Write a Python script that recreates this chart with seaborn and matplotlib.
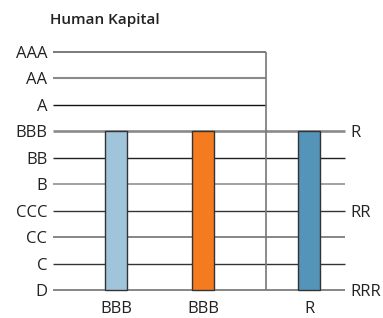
import numpy as np
import pandas as pd
import matplotlib
matplotlib.use('Agg')
import matplotlib.pyplot as plt
import seaborn as sns

# ratings, bottom (D) to top (AAA)
ratings = ['D', 'C', 'CC', 'CCC', 'B', 'BB', 'BBB', 'A', 'AA', 'AAA']
line_colors = ['#666666', '#333333', '#666666', '#333333', '#888888',
               '#222222', '#8a8a8a', '#111111', '#8a8a8a', '#555555']
line_widths = [1.1, 1.0, 1.1, 1.0, 1.1, 1.0, 1.9, 1.0, 1.5, 1.1]

bar_labels = ['BBB', 'BBB', 'R']
bar_values = ['BBB', 'BBB', 'BBB']
bar_pos = [2.16, 5.14, 8.77]
bar_colors = ['#a0c4da', '#f47b20', '#5494b8']

right_labels = ['R', 'RR', 'RRR']
right_levels = ['BBB', 'CCC', 'D']

split_x = 7.29      # vertical divider
bar_w = 0.75        # in axis units

sns.set_style('white')
plt.rcParams['font.family'] = ['Open Sans', 'DejaVu Sans']

fig = plt.figure(figsize=(3.83, 3.18), dpi=100)
ax = fig.add_axes([53 / 383, (318 - 290) / 318, 292 / 383, 238 / 318])

df = pd.DataFrame({'x': bar_pos, 'y': [ratings.index(v) for v in bar_values],
                   'lab': bar_labels})

# grid lines
for i, r in enumerate(ratings):
    xmax = split_x if i > ratings.index('BBB') else 10
    ax.plot([0, xmax], [i, i], color=line_colors[i], lw=line_widths[i],
            zorder=1, clip_on=False, solid_capstyle='butt')
ax.plot([split_x, split_x], [0, 9], color='#777777', lw=1.2, zorder=1,
        clip_on=False, solid_capstyle='butt')

min_gap = np.min(np.diff(bar_pos))
sns.barplot(data=df, x='x', y='y', hue='lab', native_scale=True,
            palette=bar_colors, width=bar_w / min_gap, dodge=False, legend=False,
            edgecolor='#333333', linewidth=1.0, ax=ax, zorder=3)
for patch, c in zip(ax.patches, bar_colors):
    patch.set_facecolor(c)
    patch.set_zorder(3)
    patch.set_clip_on(False)

ax.set_xlim(0, 10)
ax.set_ylim(0, 9)
ax.set_yticks(range(len(ratings)))
ax.set_yticklabels(ratings, fontsize=12, color='#222222')
ax.set_xticks(bar_pos)
ax.set_xticklabels(bar_labels, fontsize=12, color='#222222')
ax.tick_params(length=0, pad=4)
ax.tick_params(axis='x', pad=8)
ax.set_xlabel('')
ax.set_ylabel('')
sns.despine(ax=ax, left=True, bottom=True)

ax2 = ax.twinx()
ax2.set_ylim(0, 9)
ax2.set_yticks([ratings.index(l) for l in right_levels])
ax2.set_yticklabels(right_labels, fontsize=12, color='#222222')
ax2.tick_params(length=0, pad=4)
sns.despine(ax=ax2, left=True, bottom=True, right=True)

fig.text(50 / 383, 1 - 20 / 318, 'Human Kapital', fontsize=11, fontweight='semibold',
         color='#222222', va='center', ha='left')

fig.savefig('out.png', dpi=100)
